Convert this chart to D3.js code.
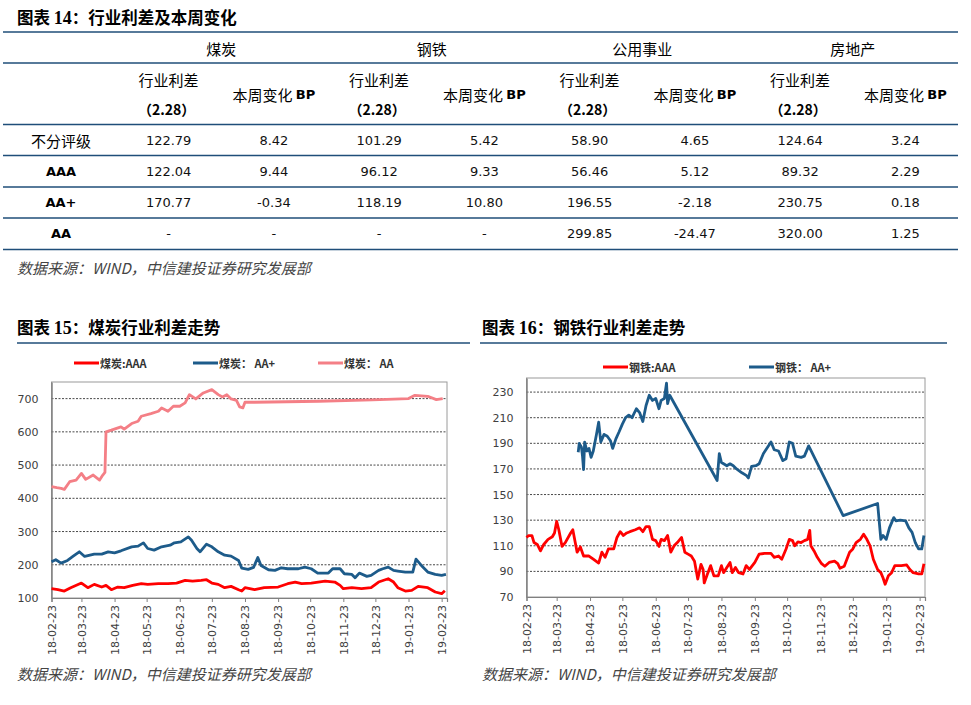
<!DOCTYPE html>
<html><head><meta charset="utf-8">
<script src="https://cdn.jsdelivr.net/npm/d3@7"></script>
<style>body{margin:0;background:#fff}svg{display:block}</style>
</head><body><svg id="c" width="971" height="705"></svg>
<script>
// ---------- Table data ----------
const sectors = ["煤炭","钢铁","公用事业","房地产"];
const ratings = ["不分评级","AAA","AA+","AA"];
const coalSpread  = ["122.79","122.04","170.77","-"];
const coalChange  = ["8.42","9.44","-0.34","-"];
const steelSpread = ["101.29","96.12","118.19","-"];
const steelChange = ["5.42","9.33","10.80","-"];
const utilSpread  = ["58.90","56.46","196.55","299.85"];
const utilChange  = ["4.65","5.12","-2.18","-24.47"];
const realSpread  = ["124.64","89.32","230.75","320.00"];
const realChange  = ["3.24","2.29","0.18","1.25"];

// ---------- Chart 15: coal ----------
const coalTicks = ["18-02-23","18-03-23","18-04-23","18-05-23","18-06-23","18-07-23","18-08-23","18-09-23","18-10-23","18-11-23","18-12-23","19-01-23","19-02-23"];
const coalYTicks = [100,200,300,400,500,600,700];
const coalAAA = [["2018-02-23",128],["2018-03-01",125],["2018-03-07",121],["2018-03-13",131],["2018-03-23",145],["2018-03-29",131],["2018-04-04",141],["2018-04-11",133],["2018-04-15",138],["2018-04-20",125],["2018-04-26",133],["2018-05-02",131],["2018-05-10",138],["2018-05-18",143],["2018-05-24",141],["2018-06-03",143],["2018-06-12",143],["2018-06-20",145],["2018-06-28",153],["2018-07-05",151],["2018-07-13",153],["2018-07-18",155],["2018-07-23",145],["2018-07-29",141],["2018-08-04",131],["2018-08-10",135],["2018-08-17",125],["2018-08-20",121],["2018-08-23",131],["2018-09-01",125],["2018-09-10",131],["2018-09-23",133],["2018-10-02",143],["2018-10-09",148],["2018-10-15",143],["2018-10-24",145],["2018-11-06",151],["2018-11-15",148],["2018-11-20",138],["2018-11-23",128],["2018-12-01",131],["2018-12-10",128],["2018-12-19",131],["2018-12-26",148],["2019-01-04",158],["2019-01-09",148],["2019-01-13",131],["2019-01-20",121],["2019-01-26",123],["2019-02-01",135],["2019-02-10",131],["2019-02-17",118],["2019-02-23",113],["2019-02-26",122]];
const coalAAplus = [["2018-02-23",209],["2018-02-27",215],["2018-03-04",205],["2018-03-10",213],["2018-03-15",225],["2018-03-21",239],["2018-03-26",225],["2018-04-04",232],["2018-04-11",232],["2018-04-17",239],["2018-04-23",236],["2018-04-29",242],["2018-05-09",254],["2018-05-15",256],["2018-05-20",266],["2018-05-24",249],["2018-05-30",244],["2018-06-06",254],["2018-06-14",259],["2018-06-18",266],["2018-06-24",269],["2018-07-01",284],["2018-07-04",274],["2018-07-09",249],["2018-07-12",239],["2018-07-18",262],["2018-07-23",254],["2018-07-29",239],["2018-08-04",229],["2018-08-10",226],["2018-08-17",213],["2018-08-20",190],["2018-08-26",186],["2018-08-31",192],["2018-09-04",222],["2018-09-07",198],["2018-09-14",185],["2018-09-20",183],["2018-09-26",191],["2018-10-02",188],["2018-10-12",188],["2018-10-18",193],["2018-10-24",188],["2018-10-30",175],["2018-11-09",175],["2018-11-13",188],["2018-11-20",188],["2018-11-24",173],["2018-12-01",171],["2018-12-04",161],["2018-12-08",175],["2018-12-15",165],["2018-12-19",168],["2018-12-26",183],["2018-12-30",188],["2019-01-04",193],["2019-01-09",183],["2019-01-13",181],["2019-01-20",178],["2019-01-27",178],["2019-01-30",217],["2019-02-04",198],["2019-02-10",178],["2019-02-17",171],["2019-02-23",168],["2019-02-27",171]];
const coalAA = [["2018-02-23",435],["2018-02-28",432],["2018-03-04",430],["2018-03-07",427],["2018-03-12",450],["2018-03-18",455],["2018-03-23",475],["2018-03-27",457],["2018-04-03",470],["2018-04-09",455],["2018-04-12",470],["2018-04-14",478],["2018-04-15",600],["2018-04-20",605],["2018-04-29",615],["2018-05-02",608],["2018-05-09",625],["2018-05-15",632],["2018-05-18",647],["2018-05-27",655],["2018-06-03",662],["2018-06-06",672],["2018-06-12",662],["2018-06-17",677],["2018-06-23",677],["2018-06-28",687],["2018-07-02",712],["2018-07-08",699],["2018-07-15",717],["2018-07-23",727],["2018-07-29",712],["2018-08-02",705],["2018-08-06",712],["2018-08-10",699],["2018-08-15",695],["2018-08-18",675],["2018-08-21",672],["2018-08-23",689],["2018-09-01",689],["2018-10-31",692],["2018-12-20",696],["2019-01-23",700],["2019-01-29",710],["2019-02-10",707],["2019-02-18",697],["2019-02-24",700]];

// ---------- Chart 16: steel ----------
const steelTicks = coalTicks;
const steelYTicks = [70,90,110,130,150,170,190,210,230];
const steelAAA = [["2018-02-23",116.5],["2018-02-25",118],["2018-02-28",118],["2018-03-02",112.5],["2018-03-05",111],["2018-03-08",106],["2018-03-11",111],["2018-03-15",115],["2018-03-19",117],["2018-03-21",120],["2018-03-23",129],["2018-03-25",122.5],["2018-03-28",109.5],["2018-03-31",112.5],["2018-04-05",120],["2018-04-07",122.5],["2018-04-11",105],["2018-04-14",109],["2018-04-17",102],["2018-04-22",102],["2018-04-26",99.5],["2018-05-01",96.5],["2018-05-04",105],["2018-05-07",101],["2018-05-10",107.5],["2018-05-15",107.5],["2018-05-18",116.5],["2018-05-21",121],["2018-05-24",118],["2018-05-27",120],["2018-05-30",121],["2018-06-04",122.5],["2018-06-08",124],["2018-06-11",121],["2018-06-14",125],["2018-06-17",125],["2018-06-20",115],["2018-06-23",114],["2018-06-26",109.5],["2018-06-28",115],["2018-07-01",114],["2018-07-04",118],["2018-07-07",105],["2018-07-10",110],["2018-07-13",112.5],["2018-07-17",116.5],["2018-07-20",105],["2018-07-23",103.5],["2018-07-26",102],["2018-07-29",98],["2018-08-01",84],["2018-08-04",95.5],["2018-08-06",91.5],["2018-08-07",81],["2018-08-10",88],["2018-08-13",94.5],["2018-08-16",86.5],["2018-08-20",86.5],["2018-08-23",94.5],["2018-08-25",89],["2018-08-28",93],["2018-08-31",97],["2018-09-02",89],["2018-09-05",93],["2018-09-08",89],["2018-09-12",88],["2018-09-15",94.5],["2018-09-18",91.5],["2018-09-23",97],["2018-09-27",103.5],["2018-10-02",104],["2018-10-08",104],["2018-10-11",101],["2018-10-15",102],["2018-10-18",99.5],["2018-10-22",107.5],["2018-10-25",115],["2018-10-28",114],["2018-10-30",110],["2018-11-02",113],["2018-11-05",112.5],["2018-11-08",114],["2018-11-11",115],["2018-11-13",122],["2018-11-14",110],["2018-11-17",106],["2018-11-20",101],["2018-11-24",96],["2018-11-27",94],["2018-12-01",97],["2018-12-06",98],["2018-12-09",96],["2018-12-11",92.5],["2018-12-15",94],["2018-12-20",105],["2018-12-23",107.5],["2018-12-26",112.5],["2018-12-30",115],["2019-01-02",119],["2019-01-05",115],["2019-01-08",110],["2019-01-11",99.5],["2019-01-15",91.5],["2019-01-18",89],["2019-01-20",85],["2019-01-22",80],["2019-01-25",86.5],["2019-01-28",89],["2019-01-31",94.5],["2019-02-06",94.5],["2019-02-11",95],["2019-02-14",91.5],["2019-02-17",89],["2019-02-22",88],["2019-02-25",88],["2019-02-27",96]];
const steelAAplus = [["2018-04-12",183],["2018-04-13",190],["2018-04-15",187],["2018-04-16",180],["2018-04-17",169.5],["2018-04-18",191],["2018-04-20",184],["2018-04-22",186],["2018-04-24",179],["2018-04-26",184],["2018-04-29",197],["2018-05-01",206.5],["2018-05-03",191],["2018-05-06",197],["2018-05-09",195.5],["2018-05-12",192],["2018-05-14",186],["2018-05-17",193.5],["2018-05-20",199],["2018-05-23",205],["2018-05-26",210],["2018-05-29",212],["2018-06-01",210],["2018-06-05",217],["2018-06-08",214],["2018-06-11",207],["2018-06-14",219.5],["2018-06-17",227.5],["2018-06-20",223.5],["2018-06-23",225],["2018-06-26",217],["2018-06-28",223.5],["2018-07-01",225],["2018-07-03",237],["2018-07-04",221],["2018-07-06",227.5],["2018-08-19",161],["2018-08-21",182],["2018-08-23",175],["2018-08-25",174],["2018-08-28",172.5],["2018-08-31",174],["2018-09-03",172.5],["2018-09-06",170],["2018-09-11",167],["2018-09-15",165],["2018-09-17",163],["2018-09-20",172],["2018-09-24",172.5],["2018-09-27",174],["2018-10-01",182],["2018-10-08",191],["2018-10-11",185],["2018-10-15",184],["2018-10-19",176.5],["2018-10-22",178],["2018-10-25",191],["2018-10-28",190],["2018-10-31",180],["2018-11-05",179],["2018-11-08",180],["2018-11-12",188],["2018-12-14",133.5],["2019-01-15",143],["2019-01-18",115],["2019-01-20",118],["2019-01-23",115],["2019-01-26",124],["2019-01-30",132],["2019-02-01",129.5],["2019-02-05",130],["2019-02-10",129.5],["2019-02-13",124],["2019-02-16",120.5],["2019-02-19",112.5],["2019-02-22",107.5],["2019-02-25",107.5],["2019-02-27",118]];

// ---------- drawing ----------
const svg = d3.select("#c");
svg.append("rect").attr("width",971).attr("height",705).attr("fill","#fff");
const CJK = "'Noto Sans CJK SC','Noto Sans',sans-serif";
const NUM = "'DejaVu Sans',Tahoma,sans-serif";
const NAVY = "#1F4E79";

function title(x, y, num, rest){
  const t = svg.append("text").attr("x",x).attr("y",y)
    .attr("font-family",CJK).attr("font-weight","bold").attr("font-size",16.5).attr("fill","#000");
  t.append("tspan").text("图表 ");
  t.append("tspan").attr("font-family","'Liberation Serif',serif").attr("font-size",18).text(num);
  t.append("tspan").text("：" + rest);
}
function footnote(x, y){
  svg.append("text").attr("x",x).attr("y",y).attr("font-family",CJK).attr("font-style","italic")
    .attr("font-size",15).attr("fill","#444").text("数据来源：WIND，中信建投证券研究发展部");
}

// ----- Table -----
title(17, 24, "14", "行业利差及本周变化");
const colKeys = d3.range(8);
const xCol = d3.scaleBand().domain(colKeys).range([116, 958]);
const yRow = d3.scaleBand().domain(ratings).range([124.5, 249.5]);
[32, 63, 124.5, 155.5, 187, 218, 249.5].forEach(y=>{
  svg.append("line").attr("x1",3).attr("x2",958).attr("y1",y).attr("y2",y)
    .attr("stroke",NAVY).attr("stroke-width",1.4);
});
sectors.forEach((s,i)=>{
  const cx = xCol(i*2) + xCol.bandwidth();
  svg.append("text").attr("x",cx).attr("y",48).attr("text-anchor","middle").attr("dominant-baseline","central")
    .attr("font-family",CJK).attr("font-size",15).attr("fill","#000").text(s);
  const c1 = xCol(i*2) + xCol.bandwidth()/2, c2 = xCol(i*2+1) + xCol.bandwidth()/2;
  svg.append("text").attr("x",c1).attr("y",79).attr("text-anchor","middle").attr("dominant-baseline","central")
    .attr("font-family",CJK).attr("font-size",15).attr("fill","#000").text("行业利差");
  svg.append("text").attr("x",c1-2).attr("y",109).attr("text-anchor","middle").attr("dominant-baseline","central")
    .attr("font-family",CJK).attr("font-size",14).attr("font-weight","bold").attr("fill","#000").text("（2.28）");
  const t = svg.append("text").attr("x",c2).attr("y",94).attr("text-anchor","middle").attr("dominant-baseline","central")
    .attr("font-family",CJK).attr("font-size",15).attr("fill","#000");
  t.append("tspan").text("本周变化 ");
  t.append("tspan").attr("font-family",NUM).attr("font-weight","bold").attr("font-size",13).text("BP");
});
const cols = [coalSpread, coalChange, steelSpread, steelChange, utilSpread, utilChange, realSpread, realChange];
ratings.forEach((r,ri)=>{
  const cy = yRow(r) + yRow.bandwidth()/2;
  svg.append("text").attr("x",61).attr("y",cy).attr("text-anchor","middle").attr("dominant-baseline","central")
    .attr("font-family", ri===0 ? CJK : NUM).attr("font-size", ri===0 ? 15 : 13)
    .attr("font-weight", ri===0 ? "normal" : "bold").attr("fill","#000").text(r);
  cols.forEach((arr,ci)=>{
    svg.append("text").attr("x",xCol(ci)+xCol.bandwidth()/2).attr("y",cy).attr("text-anchor","middle")
      .attr("dominant-baseline","central").attr("font-family",NUM)
      .attr("font-size",13).attr("fill","#111").text(arr[ri]);
  });
});
footnote(17, 274);

// ----- Line charts -----
const parse = d3.timeParse("%Y-%m-%d");
const tickParse = d3.timeParse("%y-%m-%d");
function lineChart(o){
  title(o.titleX, 334, o.num, o.name);
  svg.append("line").attr("x1",o.ruleX1).attr("x2",o.ruleX2).attr("y1",343).attr("y2",343)
    .attr("stroke",NAVY).attr("stroke-width",1.4);
  const x = d3.scaleTime().domain([parse("2018-02-23"), parse("2019-02-28")]).range([o.left, o.right]);
  const y = d3.scaleLinear().domain(o.yDomain).range([o.bottom, o.top]);
  const g = svg.append("g");
  g.append("rect").attr("x",o.left).attr("y",o.top).attr("width",o.right-o.left).attr("height",o.bottom-o.top)
    .attr("fill","none").attr("stroke","#9a9a9a").attr("stroke-width",1);
  o.yTicks.slice(1).forEach(v=>{
    g.append("line").attr("x1",o.left).attr("x2",o.right).attr("y1",y(v)).attr("y2",y(v))
      .attr("stroke","#333").attr("stroke-width",0.9).attr("stroke-dasharray","2,1.5");
  });
  const ya = d3.axisLeft(y).tickValues(o.yTicks).tickSize(0).tickPadding(13);
  const yg = g.append("g").attr("transform",`translate(${o.left},0)`).call(ya);
  yg.select(".domain").attr("stroke","#808080").attr("stroke-width",1.5);
  yg.selectAll("text").attr("font-family",NUM).attr("font-size",11).attr("fill","#404040");
  const tickDates = o.ticks.map(tickParse);
  const xa = d3.axisBottom(x).tickValues(tickDates).tickSize(4).tickFormat(d3.timeFormat("%y-%m-%d"));
  const xg = g.append("g").attr("transform",`translate(0,${o.bottom})`).call(xa);
  xg.select(".domain").attr("stroke","#808080").attr("stroke-width",1.2);
  xg.selectAll(".tick line").attr("stroke","#808080");
  xg.selectAll("text").attr("font-family",NUM).attr("font-size",11).attr("fill","#404040")
    .attr("text-anchor","end").attr("dy","0.35em").attr("y",0).attr("x",-7).attr("transform","rotate(-90)");
  const line = d3.line().x(d=>x(parse(d[0]))).y(d=>y(d[1]));
  o.series.forEach(s=>{
    g.append("path").datum(s.data).attr("d",line).attr("fill","none").attr("stroke",s.color)
      .attr("stroke-width",2.8).attr("stroke-linejoin","round");
  });
  o.series.forEach(s=>{
    svg.append("line").attr("x1",s.lx).attr("x2",s.lx+25).attr("y1",o.legendY).attr("y2",o.legendY)
      .attr("stroke",s.color).attr("stroke-width",3);
    svg.append("text").attr("x",s.lx+26).attr("y",o.legendY).attr("dominant-baseline","central")
      .attr("font-family",CJK).attr("font-weight","bold").attr("font-size",11).attr("fill","#333").text(s.label);
  });
  footnote(o.titleX, 680);
}
const RED = "#FF0000", BLUE = "#1D5B8A", PINK = "#F47F86";
lineChart({num:"15", name:"煤炭行业利差走势", titleX:17, ruleX1:17, ruleX2:470,
  left:51.5, right:447, top:382, bottom:598, yDomain:[100,750], yTicks:coalYTicks, ticks:coalTicks, legendY:363,
  series:[{data:coalAAA,color:RED,label:"煤炭:AAA",lx:74},{data:coalAAplus,color:BLUE,label:"煤炭： AA+",lx:193},{data:coalAA,color:PINK,label:"煤炭： AA",lx:318}]});
lineChart({num:"16", name:"钢铁行业利差走势", titleX:482, ruleX1:480, ruleX2:947,
  left:526.5, right:925, top:378, bottom:597, yDomain:[70,241], yTicks:steelYTicks, ticks:steelTicks, legendY:367,
  series:[{data:steelAAA,color:RED,label:"钢铁:AAA",lx:603},{data:steelAAplus,color:BLUE,label:"钢铁： AA+",lx:749}]});
</script></body></html>
